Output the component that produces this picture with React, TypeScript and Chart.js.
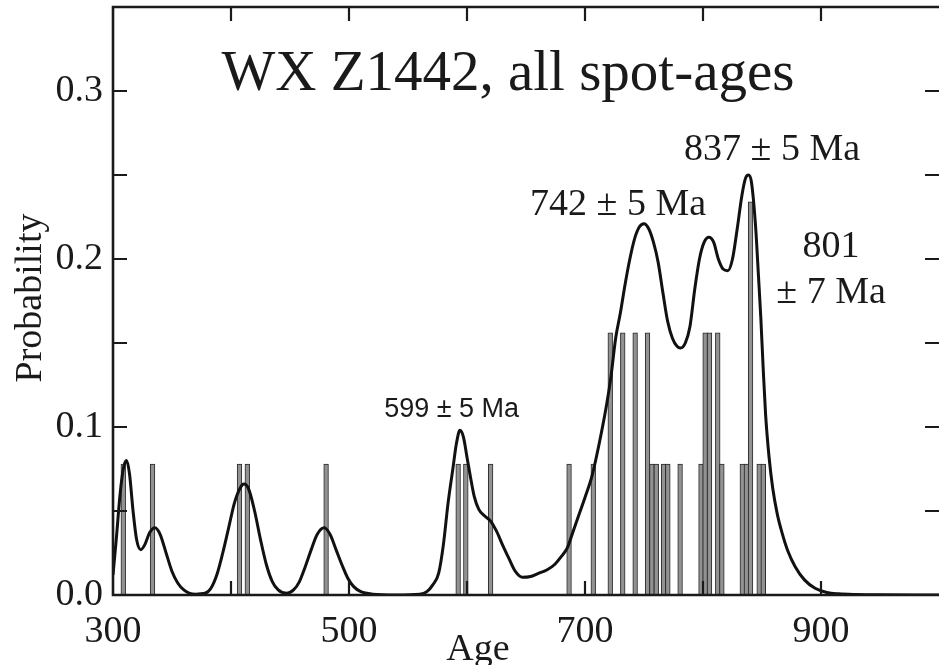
import { useEffect, useRef } from "react";
import { Chart, registerables } from "chart.js";

Chart.register(...registerables);

// Probability density curve (age in Ma, probability)
const curveAges = [
  300, 303, 306, 309, 311.5, 314, 317, 320, 323.5, 327, 331, 335.5, 340, 345, 350, 355, 360, 365, 370, 378,
  383, 388, 393, 398, 403, 408, 411, 415, 420, 425, 430, 435, 440, 447, 453, 458, 463, 468, 473, 479,
  484, 489, 494, 499, 504, 510, 520, 540, 560, 566, 571, 576, 580, 584, 588, 591, 594, 597, 600, 603,
  606, 610, 615, 620, 625, 630, 636, 641, 647, 654, 661, 668, 674, 680, 685, 690, 695, 700, 706, 712,
  718, 722, 726, 730, 734, 738, 742, 746, 750, 754, 758, 762, 766, 770, 774, 778, 781, 785, 789, 793,
  797, 801, 805, 809, 813, 817, 821, 825, 829, 833, 836, 838.5, 841, 844.5, 847, 849, 851, 853, 856, 859,
  863, 867, 872, 878, 886, 895, 905, 915, 930, 950, 1000,
];
const curveProb = [
  0.012, 0.035, 0.06, 0.076, 0.08, 0.072, 0.05, 0.033, 0.027, 0.03, 0.037, 0.04, 0.036, 0.025, 0.014, 0.007, 0.003, 0.001, 0.0005, 0.001,
  0.004, 0.012, 0.025, 0.04, 0.055, 0.064, 0.066, 0.063, 0.05, 0.033, 0.018, 0.008, 0.003, 0.001, 0.003, 0.008, 0.017, 0.027, 0.036, 0.04,
  0.036, 0.027, 0.018, 0.01, 0.005, 0.002, 0.0005, 0, 0.0005, 0.002, 0.006, 0.013, 0.03, 0.055, 0.075, 0.09, 0.098, 0.094, 0.082, 0.07,
  0.059, 0.051, 0.047, 0.044, 0.038, 0.03, 0.021, 0.014, 0.0105, 0.011, 0.013, 0.015, 0.018, 0.023, 0.028, 0.038, 0.048, 0.058, 0.071, 0.09,
  0.112, 0.13, 0.153, 0.168, 0.185, 0.2, 0.212, 0.219, 0.221, 0.218, 0.21, 0.198, 0.18, 0.163, 0.153, 0.148, 0.147, 0.15, 0.16, 0.182,
  0.2, 0.21, 0.213, 0.21, 0.2, 0.194, 0.193, 0.2, 0.218, 0.238, 0.248, 0.25, 0.246, 0.22, 0.19, 0.165, 0.135, 0.108, 0.082, 0.064,
  0.048, 0.037, 0.026, 0.017, 0.009, 0.004, 0.0015, 0.0007, 0.0003, 0.0001, 0,
];

// Spot-age histogram bars (age in Ma, height)
const spotAges = [
  308.7, 333.5, 407.2, 413.8, 480.6, 592.5, 599, 620, 686.5, 707,
  721.4, 732, 742.5, 753, 756.7, 760.4, 766.6, 770.2, 780.6, 798.3,
  801.8, 805.5, 812.5, 816, 833.3, 836.8, 840.3, 847.6, 851.1,
];
const spotProb = [
  0.078, 0.078, 0.078, 0.078, 0.078, 0.078, 0.078, 0.078, 0.078, 0.078,
  0.156, 0.156, 0.156, 0.156, 0.078, 0.078, 0.078, 0.078, 0.078, 0.078,
  0.156, 0.156, 0.156, 0.078, 0.078, 0.078, 0.234, 0.078, 0.078,
];

const xLabelled = [300, 500, 700, 900];
const yLabelled = [0, 0.1, 0.2, 0.3];

const titleText = "WX Z1442, all spot-ages";
const peakTexts = ["837 ± 5 Ma", "742 ± 5 Ma", "801", "± 7 Ma", "599 ± 5 Ma"];
const peakTextAges = [858.5, 728, 908.5, 908.5, 587];
const peakTextProbs = [0.259, 0.226, 0.201, 0.174, 0.106];

const SERIF = "'Liberation Serif', 'Times New Roman', serif";
const SANS = "'Liberation Sans', Arial, sans-serif";
const INK = "#1a1a1a";

const framePlugin = {
  id: "frame",
  afterDatasetsDraw(chart: any) {
    const { ctx, chartArea: a, scales } = chart;
    const x = scales.x;
    const y = scales.y;
    ctx.save();
    ctx.strokeStyle = INK;
    ctx.lineWidth = 2.6;
    ctx.beginPath();
    ctx.moveTo(a.right + 3, a.top);
    ctx.lineTo(a.left, a.top);
    ctx.lineTo(a.left, a.bottom);
    ctx.lineTo(a.right + 3, a.bottom);
    ctx.stroke();

    const tl = 14;
    ctx.lineWidth = 2.2;
    ctx.beginPath();
    y.ticks.forEach((t: any) => {
      if (t.value <= 0 || t.value >= y.max - 1e-9) return;
      const py = y.getPixelForValue(t.value);
      ctx.moveTo(a.left, py);
      ctx.lineTo(a.left + tl, py);
      ctx.moveTo(a.right, py);
      ctx.lineTo(a.right - tl, py);
    });
    x.ticks.forEach((t: any) => {
      if (t.value <= x.min || t.value >= x.max) return;
      const px = x.getPixelForValue(t.value);
      ctx.moveTo(px, a.top);
      ctx.lineTo(px, a.top + tl);
      ctx.moveTo(px, a.bottom);
      ctx.lineTo(px, a.bottom - tl);
    });
    ctx.stroke();

    ctx.fillStyle = INK;
    ctx.textAlign = "center";
    ctx.textBaseline = "alphabetic";

    // title inside the plot
    ctx.font = `57px ${SERIF}`;
    ctx.fillText(titleText, x.getPixelForValue(634.7), y.getPixelForValue(0.3006));

    // peak annotations
    peakTexts.forEach((txt, i) => {
      ctx.font = i === 4 ? `27px ${SANS}` : `38px ${SERIF}`;
      ctx.fillText(txt, x.getPixelForValue(peakTextAges[i]), y.getPixelForValue(peakTextProbs[i]));
    });

    // axis titles
    ctx.font = `38px ${SERIF}`;
    ctx.fillText("Age", 478, 660);
    ctx.save();
    ctx.translate(41, (a.top + a.bottom) / 2 - 3);
    ctx.rotate(-Math.PI / 2);
    ctx.fillText("Probability", 0, 0);
    ctx.restore();

    ctx.restore();
  },
};

export default function App() {
  const ref = useRef<HTMLCanvasElement>(null);

  useEffect(() => {
    document.body.style.margin = "0";
    const canvas = ref.current;
    if (!canvas) return;

    const chart = new Chart(canvas, {
      type: "bar",
      data: {
        datasets: [
          {
            type: "line",
            label: "Probability",
            data: curveAges.map((a, i) => ({ x: a, y: curveProb[i] })),
            borderColor: "#111111",
            borderWidth: 3,
            pointRadius: 0,
            cubicInterpolationMode: "monotone",
            fill: false,
            order: 0,
          } as any,
          {
            type: "bar",
            label: "Spot ages",
            data: spotAges.map((a, i) => ({ x: a, y: spotProb[i] })),
            backgroundColor: "#929292",
            borderColor: "#2a2a2a",
            borderWidth: 1,
            barThickness: 4.7,
            order: 1,
          } as any,
        ],
      },
      options: {
        responsive: false,
        animation: false,
        layout: { padding: { top: 7, right: 0, left: 0, bottom: 0 }, autoPadding: false } as any,
        plugins: { legend: { display: false }, tooltip: { enabled: false } },
        scales: {
          x: {
            type: "linear",
            min: 300,
            max: 1000,
            offset: false,
            grid: { display: false, drawTicks: false },
            border: { display: false },
            ticks: {
              stepSize: 100,
              padding: 14,
              maxRotation: 0,
              color: INK,
              font: { family: SERIF, size: 38 },
              callback: (v: any) => (xLabelled.includes(Number(v)) ? String(v) : ""),
            },
            afterFit: (s: any) => {
              s.height = 70;
              s.paddingLeft = 0;
              s.paddingRight = 0;
              s.paddingTop = 0;
              s.paddingBottom = 0;
            },
          },
          y: {
            min: 0,
            max: 0.35,
            grid: { display: false, drawTicks: false },
            border: { display: false },
            ticks: {
              stepSize: 0.05,
              padding: 10,
              color: INK,
              font: { family: SERIF, size: 38 },
              callback: (v: any) => {
                const n = Number(v);
                return yLabelled.some((l) => Math.abs(l - n) < 1e-6) ? n.toFixed(1) : "";
              },
            },
            afterFit: (s: any) => {
              s.width = 113;
              s.paddingLeft = 0;
              s.paddingRight = 0;
              s.paddingTop = 0;
              s.paddingBottom = 0;
            },
          },
        },
      },
      plugins: [framePlugin],
    });

    return () => chart.destroy();
  }, []);

  return <canvas ref={ref} width={939} height={665} style={{ display: "block" }} />;
}
